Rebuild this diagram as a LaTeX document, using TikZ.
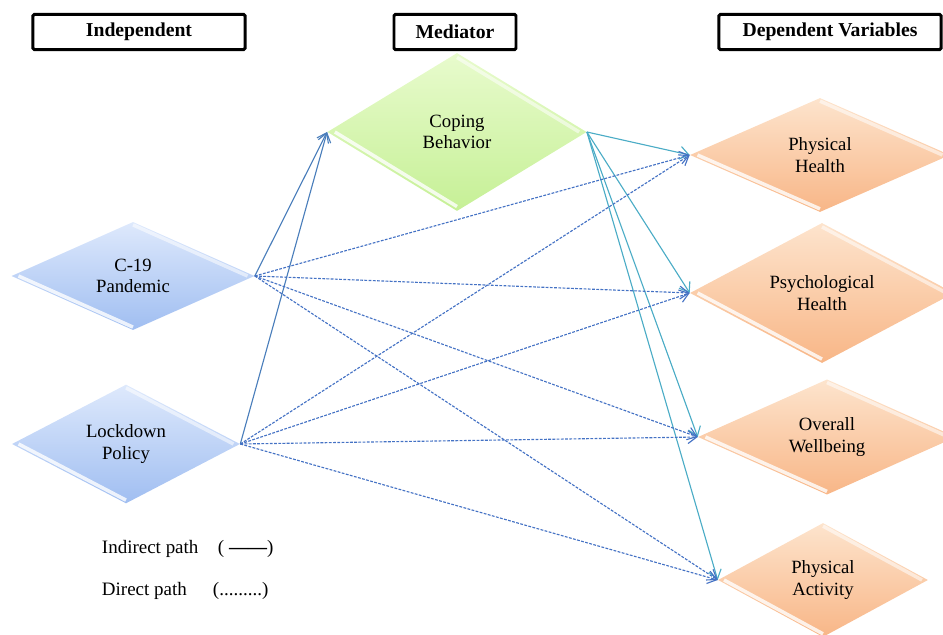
\documentclass[tikz,border=0pt]{standalone}
\usepackage{fontspec}
\setmainfont{Liberation Serif}
\usetikzlibrary{shapes.geometric,arrows.meta,calc}
\definecolor{bluetop}{RGB}{222,233,252}
\definecolor{bluebot}{RGB}{160,190,241}
\definecolor{greentop}{RGB}{232,251,205}
\definecolor{greenbot}{RGB}{198,240,150}
\definecolor{orangetop}{RGB}{253,228,205}
\definecolor{orangebot}{RGB}{248,182,135}
\definecolor{solidblue}{RGB}{74,126,187}
\definecolor{tealline}{RGB}{75,172,198}
\definecolor{dashblue}{RGB}{68,114,196}

\begin{document}
\begin{tikzpicture}[x=0.025cm,y=-0.025cm,
  hdr/.style={draw,line width=2.1pt,rounded corners=1pt,fill=white,minimum height=0.88cm,font=\fontsize{14}{16}\selectfont\bfseries},
  dia/.style={diamond,inner sep=0pt,align=center,font=\fontsize{13.3}{15.5}\selectfont},
  indep/.style={dia,top color=bluetop,bottom color=bluebot},
  medi/.style={dia,top color=greentop,bottom color=greenbot},
  depv/.style={dia,top color=orangetop,bottom color=orangebot},
  ind/.style={line width=0.8pt,-{Straight Barb[length=2.2mm,width=3.2mm]}},
  dir/.style={ind,draw=dashblue,dash pattern=on 2pt off 1pt},
  leg/.style={anchor=west,font=\fontsize{13.5}{16}\selectfont}]
\useasboundingbox (0,0) rectangle (943,635);
\clip (0,0) rectangle (943,635);

\node [hdr,minimum width=5.3cm] (hi) at (139,32) {Independent};
\node [hdr,minimum width=3.05cm] (hm) at (455,32) {Mediator};
\node [hdr,minimum width=5.55cm] (hd) at (830,32) {Dependent Variables};

\node [indep,minimum width=6.075cm,minimum height=2.7cm] (c19) at (133,276) {C-19\\Pandemic};
\node [indep,minimum width=5.7cm,minimum height=2.8cm] (ld) at (126,444) {Lockdown\\Policy};
\node [medi,minimum width=6.48cm,minimum height=3.95cm] (cp) at (457,132) {Coping\\Behavior};
\node [depv,minimum width=6.5cm,minimum height=2.85cm] (ph) at (820,155) {Physical\\Health};
\node [depv,minimum width=6.6cm,minimum height=3.5cm] (psy) at (822,293) {Psychological\\Health};
\node [depv,minimum width=6.45cm,minimum height=2.85cm] (ow) at (827,437) {Overall\\Wellbeing};
\node [depv,minimum width=5.25cm,minimum height=2.85cm] (pa) at (823,580) {Physical\\Activity};

\foreach \n in {c19,ld,cp,ph,psy,ow,pa}{
  \draw[white,line width=2.5pt,opacity=0.55] ($(\n.north)!0.06!(\n.center)$) -- ($(\n.east)!0.06!(\n.center)$);
  \draw[white,line width=2.5pt,opacity=0.8] ($(\n.west)!0.06!(\n.center)$) -- ($(\n.south)!0.06!(\n.center)$);
}

\draw[ind,draw=solidblue] (c19.east) -- (cp.west);
\draw[ind,draw=solidblue] (ld.east) -- (cp.west);
\draw[ind,draw=tealline] (cp.east) -- (ph.west);
\draw[ind,draw=tealline] (cp.east) -- (psy.west);
\draw[ind,draw=tealline] (cp.east) -- (ow.west);
\draw[ind,draw=tealline] (cp.east) -- (pa.west);
\draw[dir] (c19.east) -- (ph.west);
\draw[dir] (c19.east) -- (psy.west);
\draw[dir] (c19.east) -- (ow.west);
\draw[dir] (c19.east) -- (pa.west);
\draw[dir] (ld.east) -- (ph.west);
\draw[dir] (ld.east) -- (psy.west);
\draw[dir] (ld.east) -- (ow.west);
\draw[dir] (ld.east) -- (pa.west);

\node [leg] (li) at (97,549) {Indirect path};
\node [leg] (lis) at (213,549) {( \textbf{——})};
\node [leg] (ld2) at (97,591) {Direct path};
\node [leg] (lds) at (208,591) {(.........)};
\end{tikzpicture}
\end{document}
